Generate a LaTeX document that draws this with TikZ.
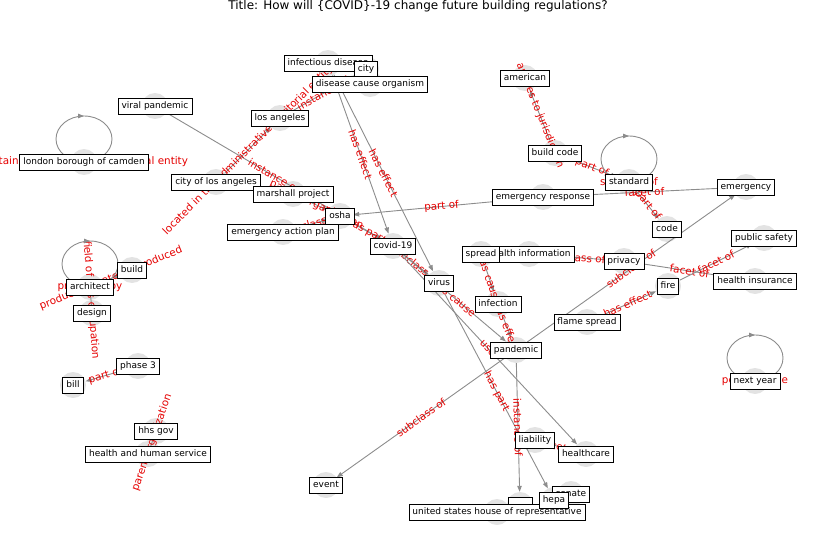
\documentclass[tikz,border=0pt]{standalone}
\usepackage{fontspec}
\setmainfont{DejaVu Sans}
\usetikzlibrary{arrows.meta,decorations.markings}

\tikzset{
  vtx/.style={circle, fill=gray!22, minimum size=26pt, inner sep=0pt},
  nodebox/.style={draw=black, fill=white, line width=0.8pt, font=\fontsize{9}{9}\selectfont,
    text height=6.9pt, text depth=2.1pt, inner xsep=3.5pt, inner ysep=3.5pt},
  link/.style={draw=black!45, line width=0.9pt, -{Triangle[length=6pt,width=4.5pt]}},
  plainlink/.style={draw=black!45, line width=0.9pt},
  linklab/.style={text=red!90!black, font=\fontsize{10.4}{10.4}\selectfont, sloped, midway, inner sep=0pt},
  looplab/.style={text=red!90!black, font=\fontsize{10.4}{10.4}\selectfont, inner sep=0pt},
  selfloop/.style={draw=black!45, line width=0.9pt, postaction={decorate},
    decoration={markings, mark=at position 0.5 with {\arrow{Triangle[length=6pt,width=4.5pt]}}}},
}

\begin{document}
\begin{tikzpicture}[x=1pt, y=-1pt]

  \useasboundingbox (0,0) rectangle (837,559);

  % ---------- title ----------
  \node[font=\fontsize{12}{12}\selectfont] (title) at (418,6)
        {Title: How will \{COVID\}-19 change future building regulations?};

  % ---------- graph nodes ----------
  \foreach \n/\x/\y in {idis/328/63, city/366/69, dco/370/84, amer/525/78,
      vpan/155/106, la/280/118, camden/84/162, bcode/555/153, std/629/182,
      cla/216/182, mproj/293/194, emerg/746/187, eresp/543/197, osha/340/216,
      code/667/229, eap/283/232, psafe/764/238, covid/393/246, spread/481/254,
      hinfo/529/254, build/132/270, priv/624/261, arch/90/287, virus/439/283,
      fire/668/286, hins/755/281, infec/498/304, design/92/313, flame/587/322,
      pand/516/350, phase/138/366, bill/73/385, nyear/755/381, hhsgov/156/431,
      hhs/148/454, liab/535/440, hcare/586/454, event/326/485, senate/571/494,
      hepa/554/500, hnode/520/505, ushouse/497/512}
    \node[vtx] (\n) at (\x,\y) {};

  % ---------- relations ----------
  \draw[link] (vpan) -- node[linklab]{instance of} (covid);
  \draw[link] (cla) -- node[linklab]{located in the administrative territorial entity} (la);
  \draw[link] (la) -- node[linklab]{instance of} (city);
  \draw[link] (idis) -- node[linklab]{has effect} (covid);
  \draw[link] (idis) -- node[linklab]{has effect} (virus);
  \draw[link] (bcode) -- node[linklab]{applies to jurisdiction} (amer);
  \draw[link] (bcode) -- node[linklab]{part of} (std);
  \draw[link] (std) -- node[linklab]{part of} (code);
  \draw[link] (eresp) -- node[linklab]{part of} (osha);
  \draw[link] (eresp) -- node[linklab]{facet of} (emerg);
  \draw[link] (pand) -- node[linklab]{subclass of} (emerg);
  \draw[link] (hinfo) -- node[linklab]{subclass of} (priv);
  \draw[link] (priv) -- node[linklab]{facet of} (hins);
  \draw[link] (fire) -- node[linklab]{facet of} (psafe);
  \draw[link] (flame) -- node[linklab]{has effect} (fire);
  \draw[link] (spread) -- node[linklab]{has cause} (infec);
  \draw[link] (infec) -- node[linklab]{has effect} (pand);
  \draw[link] (covid) -- node[linklab]{subclass of} (virus);
  \draw[link] (covid) -- node[linklab]{has cause} (pand);
  \draw[link] (covid) -- node[linklab]{uses} (hcare);
  \draw[link] (virus) -- node[linklab]{has part} (hepa);
  \draw[link] (pand) -- node[linklab]{subclass of} (event);
  \draw[link] (pand) -- node[linklab]{instance of} (hnode);
  \draw[link] (liab) -- node[linklab]{facet of} (hcare);
  \draw[link] (mproj) -- node[linklab]{parent organization} (osha);
  \draw[link] (eap) -- node[linklab]{subclass of} (osha);
  \draw[link] (osha) -- node[linklab]{has part} (covid);
  \draw[link] (arch) -- node[linklab]{product or material produced} (build);
  \draw[plainlink] (arch.center) -- node[linklab]{field of this occupation} (design.center);
  \draw[link] (phase) -- node[linklab]{part of} (bill);
  \draw[plainlink] (hhsgov.center) -- node[linklab]{parent organization} (hhs.center);

  % ---------- self loops ----------
  \foreach \n/\t in {camden/contains administrative territorial entity,
      std/subclass of, arch/practiced by, nyear/point in time}{
    \draw[selfloop] (\n.center) arc[start angle=270, end angle=-90, x radius=28pt, y radius=23pt];
    \node[looplab] (\n-l) at (\n) {\t};
  }

  % ---------- labels ----------
  \foreach \n/\t in {idis/infectious disease, city/city, dco/disease cause organism,
      amer/american, vpan/viral pandemic, la/los angeles, camden/london borough of camden,
      bcode/build code, std/standard, cla/city of los angeles, mproj/marshall project,
      emerg/emergency, eresp/emergency response, eap/emergency action plan, osha/osha,
      code/code, psafe/public safety, covid/covid-19, hinfo/health information,
      spread/spread, build/build, priv/privacy, arch/architect, virus/virus, fire/fire,
      hins/health insurance, infec/infection, design/design, flame/flame spread,
      pand/pandemic, phase/phase 3, bill/bill, nyear/next year, hhsgov/hhs gov,
      hhs/health and human service, liab/liability, hcare/healthcare, event/event}
    \node[nodebox] (\n-b) at (\n) {\t};
  \node[nodebox, minimum width=24pt] (hnode-b) at (hnode) {};
  \node[nodebox] (senate-b) at (senate) {senate};
  \node[nodebox] (ushouse-b) at (ushouse) {united states house of representative};
  \node[nodebox] (hepa-b) at (hepa) {hepa};

\end{tikzpicture}
\end{document}
